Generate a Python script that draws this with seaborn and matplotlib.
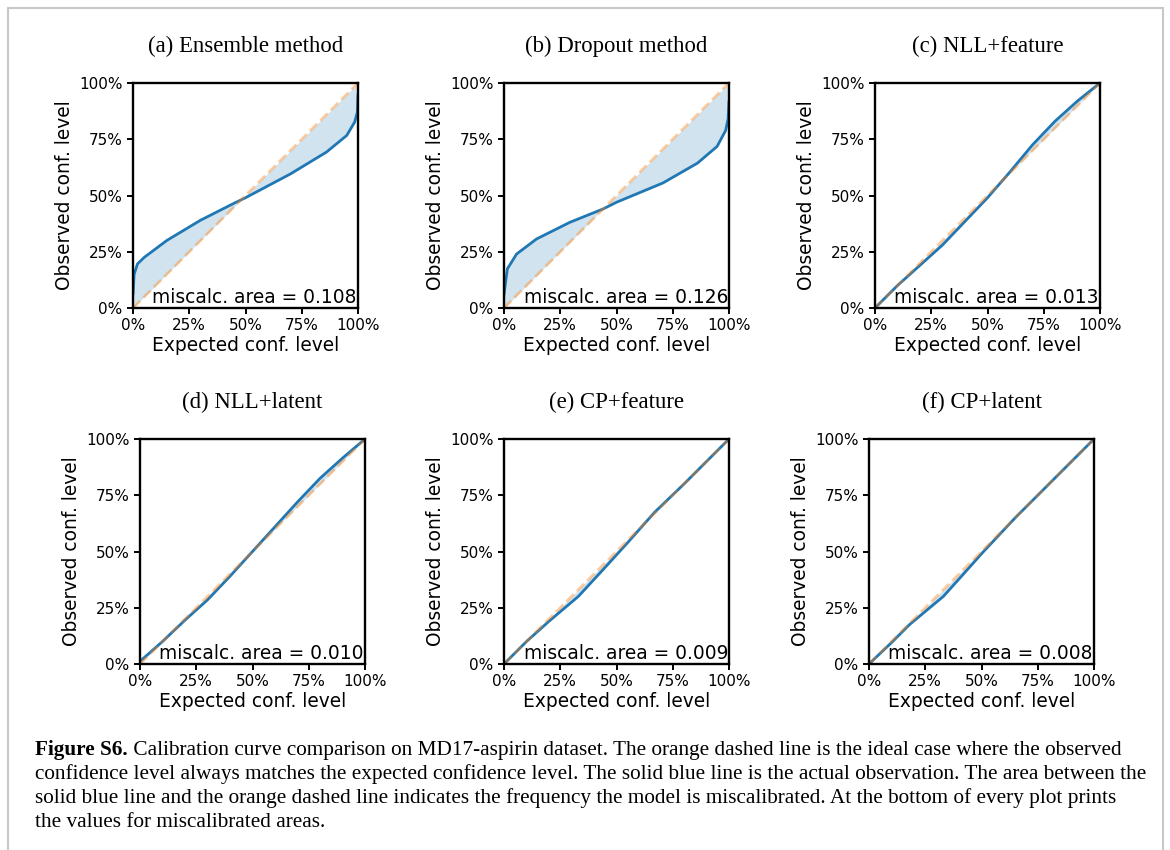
import matplotlib
matplotlib.use("Agg")
import matplotlib.pyplot as plt
from matplotlib.ticker import PercentFormatter, FixedLocator
from matplotlib.patches import Rectangle
import seaborn as sns

# panel titles and printed miscalibration areas
titles = ["(a) Ensemble method", "(b) Dropout method", "(c) NLL+feature",
          "(d) NLL+latent", "(e) CP+feature", "(f) CP+latent"]
areas = ["0.108", "0.126", "0.013", "0.010", "0.009", "0.008"]

# calibration curves (expected, observed)
ens_x = [0.0, 0.005, 0.02, 0.05, 0.15, 0.30, 0.45, 0.50, 0.70, 0.86, 0.95, 0.985, 0.997, 1.0]
ens_y = [0.06, 0.15, 0.196, 0.225, 0.30, 0.39, 0.466, 0.49, 0.596, 0.693, 0.767, 0.826, 0.87, 0.95]

drop_x = [0.0, 0.004, 0.015, 0.056, 0.145, 0.293, 0.44, 0.50, 0.707, 0.86, 0.947, 0.985, 0.996, 1.0]
drop_y = [0.06, 0.092, 0.174, 0.24, 0.307, 0.381, 0.44, 0.47, 0.556, 0.644, 0.718, 0.789, 0.84, 0.92]

nllf_x = [0.0, 0.1, 0.2, 0.3, 0.4, 0.5, 0.6, 0.7, 0.8, 0.9, 1.0]
nllf_y = [0.0, 0.10, 0.19, 0.28, 0.385, 0.49, 0.605, 0.725, 0.83, 0.92, 1.0]

nlll_x = [0.0, 0.1, 0.2, 0.3, 0.4, 0.5, 0.6, 0.7, 0.8, 0.9, 1.0]
nlll_y = [0.012, 0.10, 0.195, 0.285, 0.39, 0.50, 0.61, 0.72, 0.825, 0.915, 1.0]

cpf_x = [0.0, 0.1, 0.2, 0.33, 0.45, 0.55, 0.67, 0.8, 0.9, 1.0]
cpf_y = [0.0, 0.10, 0.19, 0.30, 0.43, 0.54, 0.675, 0.80, 0.90, 1.0]

cpl_x = [0.0, 0.1, 0.18, 0.33, 0.42, 0.5, 0.65, 0.8, 1.0]
cpl_y = [0.0, 0.095, 0.175, 0.30, 0.40, 0.49, 0.65, 0.80, 1.0]

ideal_x = [0.0, 1.0]
ideal_y = [0.0, 1.0]
ticks = [0.0, 0.25, 0.5, 0.75, 1.0]

caption_bold = "Figure S6."
caption_lines = [
    " Calibration curve comparison on MD17-aspirin dataset. The orange dashed line is the ideal case where the observed",
    "confidence level always matches the expected confidence level. The solid blue line is the actual observation. The area between the",
    "solid blue line and the orange dashed line indicates the frequency the model is miscalibrated. At the bottom of every plot prints",
    "the values for miscalibrated areas.",
]


def draw_panel(ax, x, y, title, area):
    # shaded miscalibration area between ideal diagonal and curve
    ax.fill_between(x, x, y, color="#1f77b4", alpha=0.2, linewidth=0)
    sns.lineplot(x=x, y=y, ax=ax, color="#1f77b4", linewidth=2)
    sns.lineplot(x=ideal_x, y=ideal_y, ax=ax, color="#ff7f0e", alpha=0.4,
                 linewidth=2, linestyle="--")
    ax.set_xlim(0, 1)
    ax.set_ylim(0, 1)
    ax.xaxis.set_major_locator(FixedLocator(ticks))
    ax.yaxis.set_major_locator(FixedLocator(ticks))
    ax.xaxis.set_major_formatter(PercentFormatter(1.0, decimals=0))
    ax.yaxis.set_major_formatter(PercentFormatter(1.0, decimals=0))
    ax.tick_params(labelsize=11, length=4, width=1.4, color="black",
                   labelcolor="black")
    ax.set_xlabel("Expected conf. level", fontsize=13.4, labelpad=2, color="black")
    ax.set_ylabel("Observed conf. level", fontsize=13.4, labelpad=4, color="black")
    for sp in ax.spines.values():
        sp.set_visible(True)
        sp.set_color("black")
        sp.set_linewidth(1.7)
    ax.set_title(title, fontsize=16.4, family="Liberation Serif", pad=22,
                 color="black")
    ax.text(0.995, 0.005, f"miscalc. area = {area}", transform=ax.transAxes,
            ha="right", va="bottom", fontsize=13.4, color="black")


def main():
    sns.set_style("ticks")
    plt.rcParams["font.family"] = ["DejaVu Sans"]
    plt.rcParams["text.color"] = "black"

    W, H = 1170, 850
    fig = plt.figure(figsize=(W / 100, H / 100), dpi=100)

    # axes boxes in pixels: left, top
    boxes = [(133, 83), (504, 83), (875, 83), (140, 439), (504, 439), (869, 439)]
    size = 225
    data = [(ens_x, ens_y), (drop_x, drop_y), (nllf_x, nllf_y),
            (nlll_x, nlll_y), (cpf_x, cpf_y), (cpl_x, cpl_y)]

    for (l, t), (x, y), title, area in zip(boxes, data, titles, areas):
        ax = fig.add_axes([l / W, 1 - (t + size) / H, size / W, size / H])
        draw_panel(ax, x, y, title, area)

    # outer frame of the figure page
    fig.patches.append(Rectangle((8 / W, -0.01), (1163 - 8) / W, 1 - 8 / H + 0.01,
                                 transform=fig.transFigure, fill=False,
                                 edgecolor="#c8c8c8", linewidth=1.5))

    # caption
    x0 = 35 / W
    baselines = [755, 779, 803, 827]
    cap_size = 15.3
    bold = fig.text(x0, 1 - baselines[0] / H, caption_bold, fontsize=cap_size,
                    family="Liberation Serif", weight="bold", va="baseline")
    renderer = fig.canvas.get_renderer()
    bb = bold.get_window_extent(renderer=renderer)
    fig.text(bb.x1 / W, 1 - baselines[0] / H, caption_lines[0], fontsize=cap_size,
             family="Liberation Serif", va="baseline")
    for line, yb in zip(caption_lines[1:], baselines[1:]):
        fig.text(x0, 1 - yb / H, line, fontsize=cap_size,
                 family="Liberation Serif", va="baseline")

    fig.savefig("out.png", dpi=100)
    plt.close(fig)


if __name__ == "__main__":
    main()
